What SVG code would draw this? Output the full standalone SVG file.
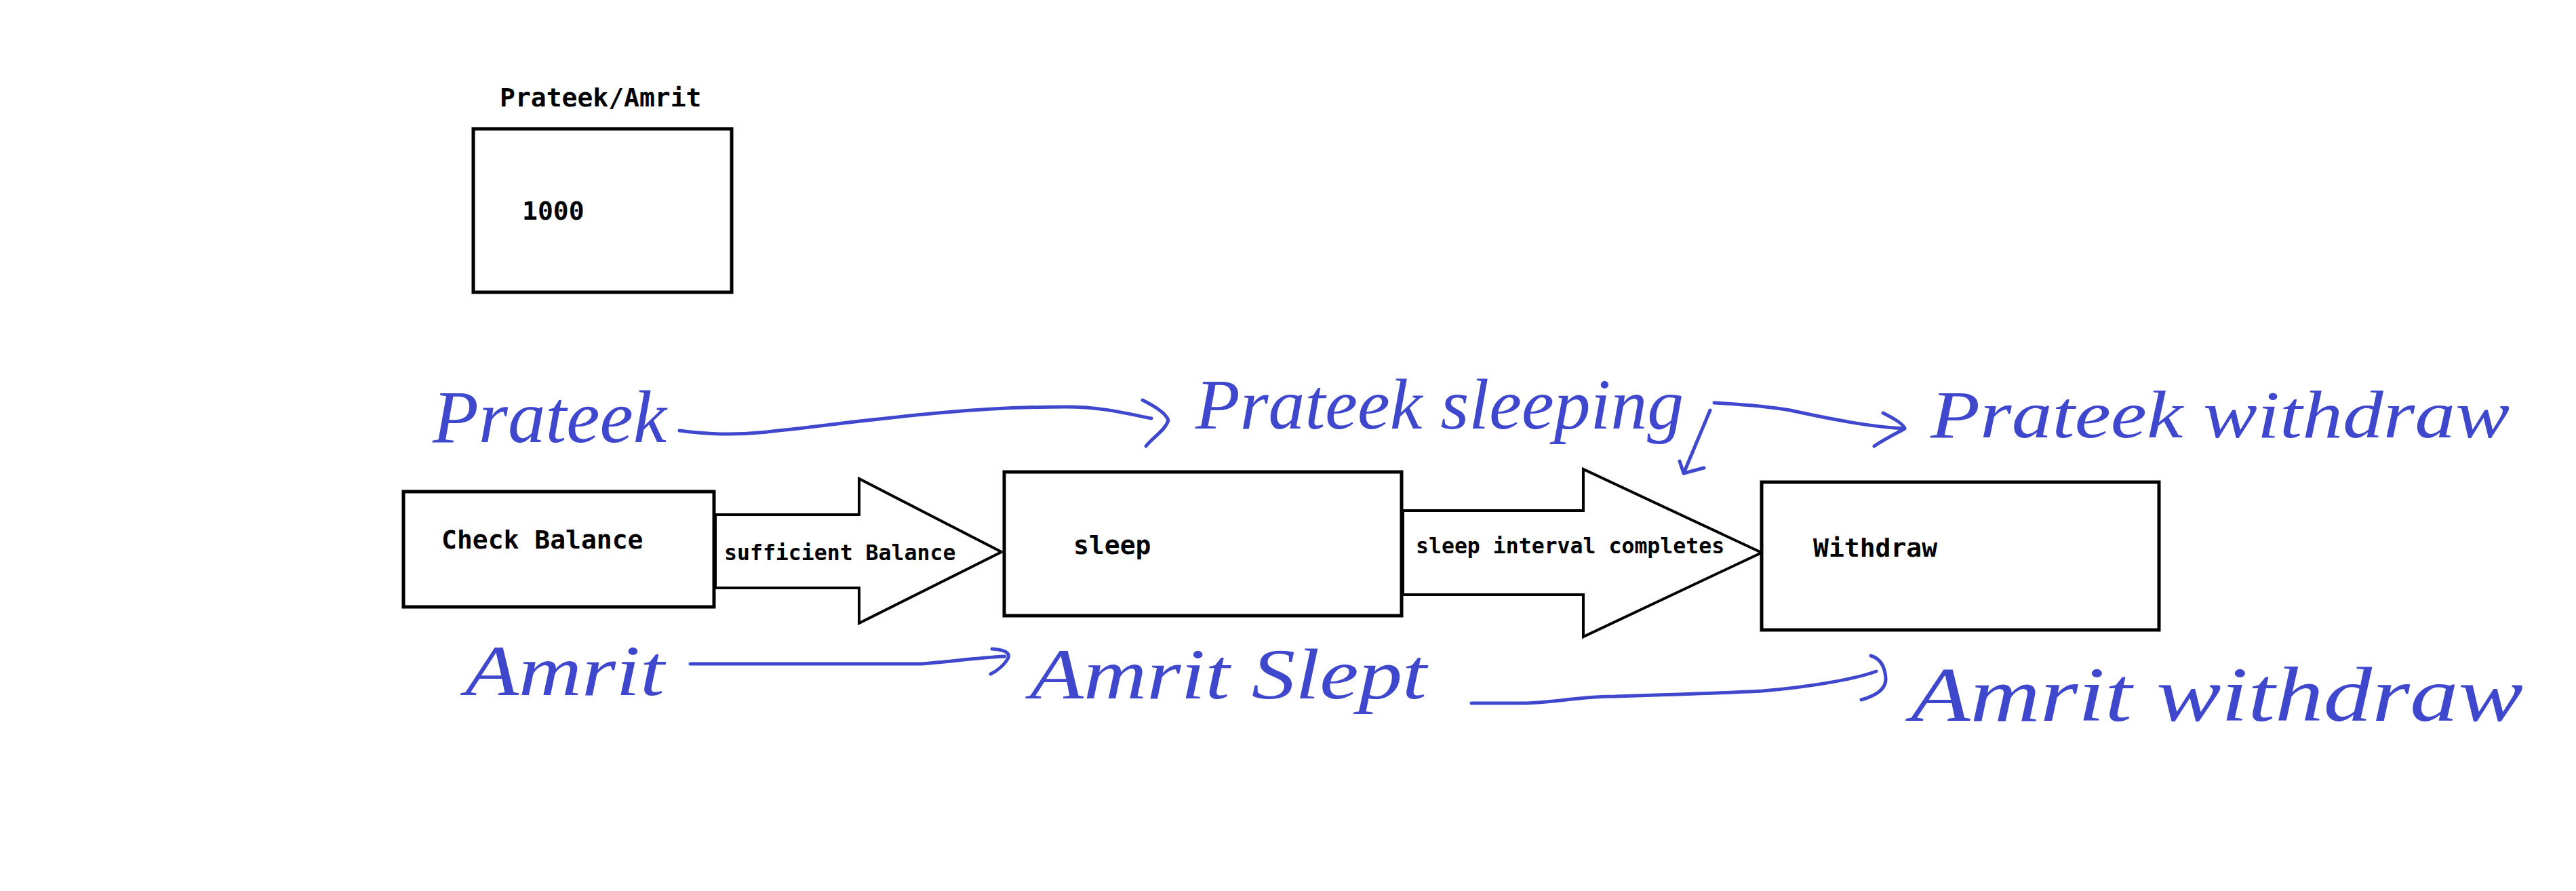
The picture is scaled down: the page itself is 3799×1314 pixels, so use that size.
<svg xmlns="http://www.w3.org/2000/svg" width="3799" height="1314" viewBox="0 0 3799 1314">
<style>
.box{fill:#ffffff;stroke:#000000;stroke-width:5}
.blk{fill:#ffffff;stroke:#000000;stroke-width:4;stroke-linejoin:miter}
.mono{font-family:"DejaVu Sans Mono","Liberation Mono",monospace;font-weight:bold;fill:#000000}
.t38{font-size:38px}
.t31{font-size:31.5px}
.hand{font-family:"Liberation Serif","DejaVu Serif",serif;font-style:italic;fill:#3f48cc}
.ink{fill:none;stroke:#3f48cc;stroke-width:5;stroke-linecap:round;stroke-linejoin:round}
</style>
<rect x="0" y="0" width="3799" height="1314" fill="#ffffff"/>

<g id="account">
  <text class="mono t38" x="737" y="157">Prateek/Amrit</text>
  <rect class="box" x="698" y="190" width="381" height="241"/>
  <text class="mono t38" x="770" y="324">1000</text>
</g>

<g id="connectors">
  <g id="edge-sufficient">
    <polygon class="blk" points="1055,759 1267,759 1267,706 1477,814 1267,919 1267,867 1055,867"/>
    <text class="mono t31" x="1068" y="826">sufficient Balance</text>
  </g>
  <g id="edge-interval">
    <polygon class="blk" points="2069,753 2335,753 2335,692 2598,815 2335,939 2335,877 2069,877"/>
    <text class="mono t31" x="2088" y="816">sleep interval completes</text>
  </g>
</g>

<g id="check-balance">
  <rect class="box" x="595" y="725" width="458" height="170"/>
  <text class="mono t38" x="651" y="809">Check Balance</text>
</g>

<g id="sleep">
  <rect class="box" x="1481" y="696" width="586" height="212"/>
  <text class="mono t38" x="1583" y="817">sleep</text>
</g>

<g id="withdraw">
  <rect class="box" x="2598" y="711" width="586" height="218"/>
  <text class="mono t38" x="2674" y="821">Withdraw</text>
</g>

<g id="annotations">
  <text class="hand" x="638" y="652" font-size="110" textLength="345" lengthAdjust="spacingAndGlyphs">Prateek</text>
  <path class="ink" d="M1002,635 C1040,640 1080,642 1120,638 C1250,625 1400,600 1572,600 C1630,600 1670,612 1698,617"/>
  <path class="ink" d="M1685,590 C1705,600 1720,610 1723,620 C1718,635 1700,645 1690,658"/>

  <text class="hand" x="1763" y="632" font-size="105" textLength="720" lengthAdjust="spacingAndGlyphs">Prateek sleeping</text>
  <path class="ink" d="M2522,605 L2483,698"/>
  <path class="ink" d="M2477,680 L2483,698 L2513,690"/>
  <path class="ink" d="M2528,594 C2560,596 2600,598 2640,605 C2700,618 2760,630 2809,632"/>
  <path class="ink" d="M2777,609 C2795,618 2808,626 2809,632 C2795,640 2775,650 2764,658"/>

  <text class="hand" x="2847" y="645" font-size="100" textLength="854" lengthAdjust="spacingAndGlyphs">Prateek withdraw</text>

  <text class="hand" x="686" y="1025" font-size="105" textLength="294" lengthAdjust="spacingAndGlyphs">Amrit</text>
  <path class="ink" d="M1018,979 L1358,979 C1400,976 1440,970 1482,968"/>
  <path class="ink" d="M1463,957 C1480,958 1490,962 1487,970 C1482,980 1470,990 1461,994"/>

  <text class="hand" x="1519" y="1030" font-size="105" textLength="585" lengthAdjust="spacingAndGlyphs">Amrit Slept</text>
  <path class="ink" d="M2170,1037 L2252,1037 C2300,1035 2330,1027 2382,1027 C2450,1025 2540,1022 2599,1019 C2680,1012 2740,1000 2767,990"/>
  <path class="ink" d="M2759,967 C2775,972 2780,985 2781,1000 C2782,1015 2770,1025 2745,1032"/>

  <text class="hand" x="2818" y="1063" font-size="115" textLength="903" lengthAdjust="spacingAndGlyphs">Amrit withdraw</text>
</g>
</svg>
